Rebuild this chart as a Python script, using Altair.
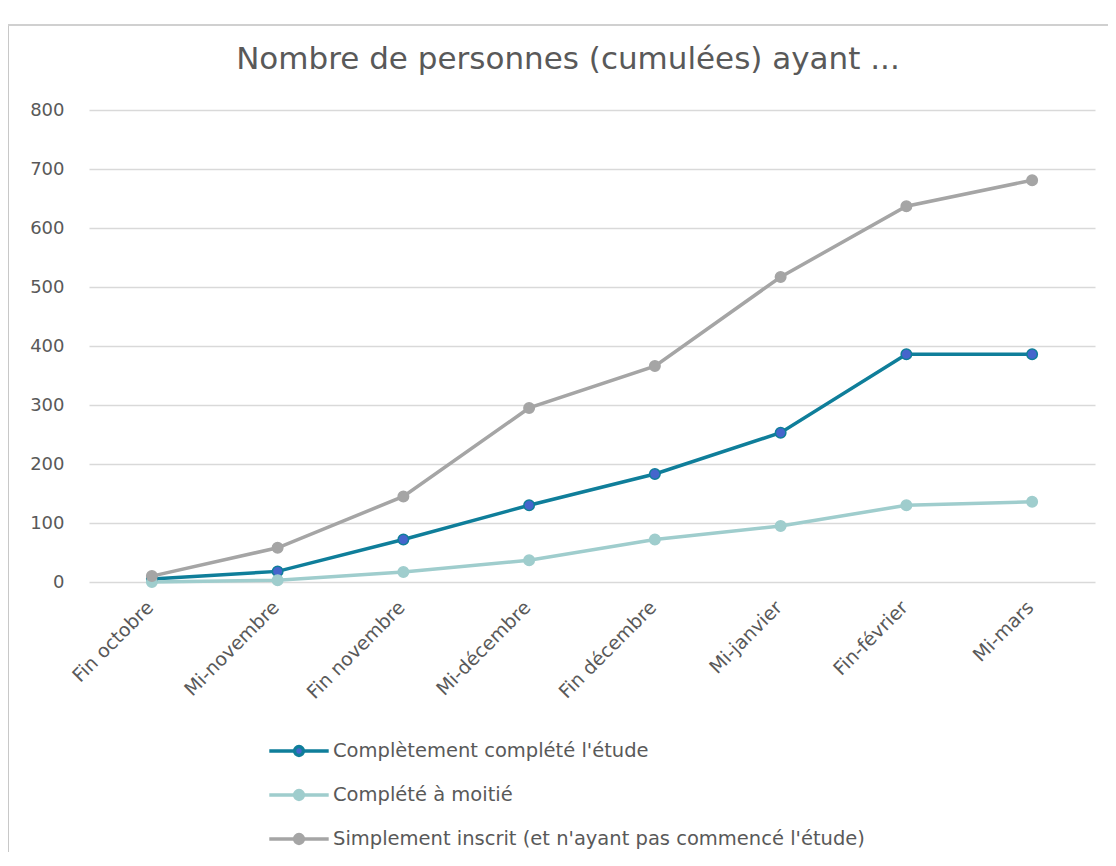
import altair as alt
import pandas as pd

categories = ["Fin octobre", "Mi-novembre", "Fin novembre", "Mi-décembre",
              "Fin décembre", "Mi-janvier", "Fin-février", "Mi-mars"]
series_names = ["Complètement complété l'étude", "Complété à moitié",
                "Simplement inscrit (et n'ayant pas commencé l'étude)"]
complet = [5, 18, 72, 130, 183, 253, 386, 386]
moitie = [0, 3, 17, 37, 72, 95, 130, 136]
inscrit = [10, 58, 145, 295, 366, 517, 637, 681]
y_ticks = [0, 100, 200, 300, 400, 500, 600, 700, 800]

line_colors = ["#0F7E9A", "#9FCDCD", "#A5A5A5"]
fill_colors = ["#4565CC", "#9FCDCD", "#A5A5A5"]

rows = []
for name, vals in zip(series_names, [complet, moitie, inscrit]):
    for c, v in zip(categories, vals):
        rows.append({"periode": c, "valeur": v, "serie": name})
df = pd.DataFrame(rows)

FONT = "DejaVu Sans"
GREY_TXT = "#595959"

x = alt.X("periode:N", sort=categories, title=None,
          axis=alt.Axis(labelAngle=315, labelAlign="right", labelBaseline="middle",
                        labelPadding=22, labelOffset=-2, ticks=False, domain=False,
                        labelFontSize=19, labelColor=GREY_TXT, labelFont=FONT,
                        labelLimit=300))
y = alt.Y("valeur:Q", title=None,
          scale=alt.Scale(domain=[0, 800], nice=False),
          axis=alt.Axis(values=y_ticks, ticks=False, domain=False, labelPadding=25,
                        labelFontSize=18, labelColor=GREY_TXT, labelFont=FONT,
                        gridColor="#D9D9D9", gridWidth=1.5))

stroke_scale = alt.Scale(domain=series_names, range=line_colors)
fill_scale = alt.Scale(domain=series_names, range=fill_colors)

legend = alt.Legend(title=None, orient="none", legendX=186, legendY=617,
                    direction="vertical",
                    symbolType="M-1.35,0L-0.2,0M0.2,0L1.35,0M0.2,0A0.2,0.2,0,1,1,-0.2,0A0.2,0.2,0,1,1,0.2,0Z",
                    symbolSize=1936, symbolStrokeWidth=3.5, symbolOpacity=1,
                    labelFontSize=19.5, labelColor=GREY_TXT, labelFont=FONT,
                    labelOffset=10, rowPadding=8, labelLimit=800)

lines = alt.Chart(df).mark_line(strokeWidth=3.5).encode(
    x=x, y=y,
    stroke=alt.Stroke("serie:N", scale=stroke_scale, legend=legend),
)
points = alt.Chart(df).mark_point(filled=False, size=110, strokeWidth=1.5, opacity=1,
                                  shape="circle").encode(
    x=x, y=y,
    stroke=alt.Stroke("serie:N", scale=stroke_scale, legend=legend),
    fill=alt.Fill("serie:N", scale=fill_scale, legend=legend),
)

frame_left = alt.Chart(df).mark_rule(color="#C8C8C8", strokeWidth=2).encode(
    x=alt.value(-81), y=alt.value(-85), y2=alt.value(800))
frame_top = alt.Chart(df).mark_rule(color="#D0D0D0", strokeWidth=2).encode(
    x=alt.value(-81), x2=alt.value(1030), y=alt.value(-85))

chart = alt.layer(lines, points, frame_left, frame_top).properties(
    width=1006, height=472,
    title=alt.TitleParams("Nombre de personnes (cumulées) ayant ...", fontSize=31,
                          font=FONT, fontWeight="normal", color=GREY_TXT,
                          anchor="middle", frame="group", dx=-24, offset=-52),
    autosize=alt.AutoSizeParams(type="none"),
    padding={"left": 81, "top": 102, "right": 13, "bottom": 270},
    background="white",
).configure_view(stroke=None)

chart.save("out.html", embed_options={"renderer": "svg", "actions": False})
